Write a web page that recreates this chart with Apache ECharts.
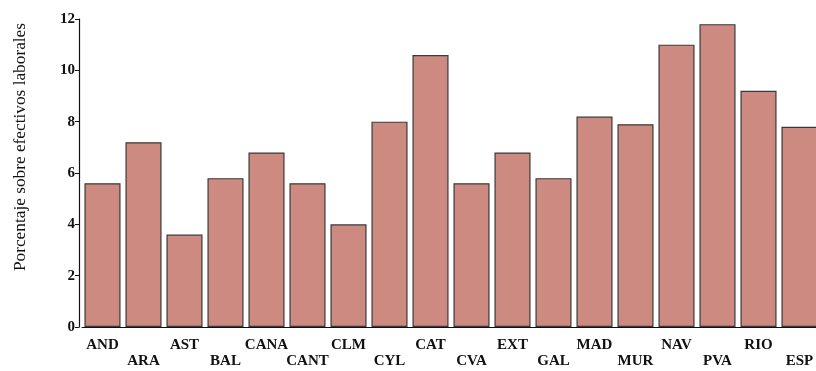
<!DOCTYPE html>
<html><head><meta charset="utf-8">
<script src="https://cdn.jsdelivr.net/npm/echarts@6/dist/echarts.min.js"></script>
<style>html,body{margin:0;padding:0;background:#fff}#c{width:816px;height:371px}</style>
</head><body><div id="c"></div>
<script>
const categories = ['AND','ARA','AST','BAL','CANA','CANT','CLM','CYL','CAT','CVA','EXT','GAL','MAD','MUR','NAV','PVA','RIO','ESP'];
const values = [5.6,7.2,3.6,5.8,6.8,5.6,4.0,8.0,10.6,5.6,6.8,5.8,8.2,7.9,11.0,11.8,9.2,7.8];
const yTicks = [0,2,4,6,8,10,12];
const yTitle = 'Porcentaje sobre efectivos laborales';

const chart = echarts.init(document.getElementById('c'));
const font = '"Liberation Serif", "DejaVu Serif", serif';
chart.setOption({
  animation: false,
  grid: {left: 82, width: 738, top: 19, bottom: 44, containLabel: false, outerBoundsMode: 'none'},
  graphic: [{
    type: 'text', left: 12, top: 23, rotation: Math.PI/2,
    style: {text: yTitle, font: '17.3px ' + font, fill: '#111'}
  }],
  xAxis: {
    type: 'category', data: categories,
    axisLine: {lineStyle: {color: '#111', width: 1.2}},
    axisTick: {show: false},
    axisLabel: {
      interval: 0, color: '#111', fontFamily: font, fontWeight: 'bold', fontSize: 15,
      margin: 10, lineHeight: 16,
      formatter: (v, i) => (i % 2 ? '\n' + v : v)
    }
  },
  yAxis: {
    type: 'value', min: 0, max: 12, interval: 2, offset: 3,
    splitLine: {show: false},
    axisLine: {show: true, lineStyle: {color: '#111', width: 1.2}},
    axisTick: {show: true, length: 4, lineStyle: {color: '#111'}},
    axisLabel: {color: '#111', fontFamily: font, fontWeight: 'bold', fontSize: 15, margin: 4,
      formatter: v => yTicks.includes(v) ? String(v) : ''}
  },
  series: [{
    type: 'bar', data: values, barCategoryGap: '12%',
    itemStyle: {color: '#cc8a80', borderColor: '#3a3a3a', borderWidth: 1.2}
  }]
});
</script></body></html>
